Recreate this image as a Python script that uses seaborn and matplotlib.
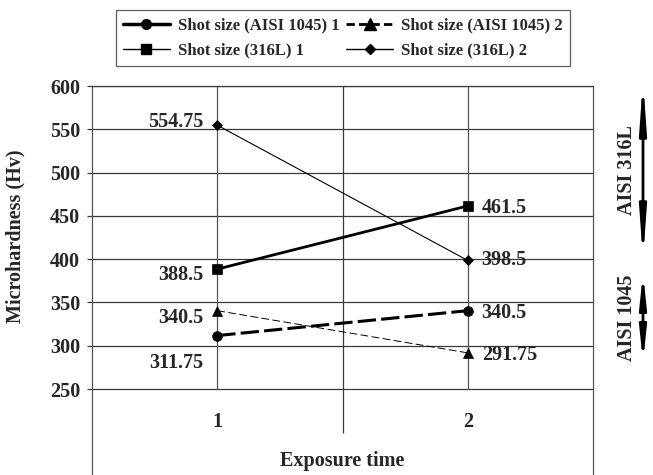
import pandas as pd
import seaborn as sns
import matplotlib.pyplot as plt
from matplotlib.lines import Line2D

# data
exposure = [1, 2]
shot_1045_1 = [311.75, 340.5]
shot_1045_2 = [340.5, 291.75]
shot_316_1 = [388.5, 461.5]
shot_316_2 = [554.75, 398.5]
y_ticks = [250, 300, 350, 400, 450, 500, 550, 600]

sns.set_theme(style="white")
plt.rcParams['font.family'] = ['Liberation Serif', 'DejaVu Serif']
plt.rcParams['font.weight'] = 'bold'

fig = plt.figure(figsize=(6.53, 4.75), dpi=100)
ax = fig.add_axes([92 / 653, 0, 501 / 653, 389 / 475])

grid_c = '#3a3a3a'
ax.set_xlim(0.5, 2.5)
ax.set_ylim(150.7, 600)
ax.set_yticks(y_ticks)
ax.set_xticks([])
ax.yaxis.grid(True, color=grid_c, lw=0.9)
ax.vlines(exposure, y_ticks[0], y_ticks[-1], color='#555555', lw=0.9, zorder=1)
ax.vlines(1.5, 199, y_ticks[-1], color=grid_c, lw=0.9, zorder=1)
for s in ['left', 'right', 'top']:
    ax.spines[s].set_color('#555555')
    ax.spines[s].set_linewidth(0.9)
ax.spines['top'].set_color(grid_c)
ax.spines['bottom'].set_visible(False)
ax.tick_params(axis='y', which='both', left=True, direction='out', length=3.6,
               width=0.9, color=grid_c, pad=5, labelsize=14.5)
for t in ax.get_yticklabels():
    t.set_fontweight('bold')

# plotted series (styles as they appear in the plot area)
series = [
    (shot_1045_1, dict(marker='o', markersize=7, lw=2.2, linestyle=(0, (6, 1.7)))),
    (shot_1045_2, dict(marker='^', markersize=7.5, lw=0.7, linestyle=(0, (8, 3.5)))),
    (shot_316_1, dict(marker='s', markersize=7, lw=2.0, linestyle='-')),
    (shot_316_2, dict(marker='D', markersize=5, lw=0.8, linestyle='-')),
]
for vals, kw in series:
    sns.lineplot(x=exposure, y=vals, ax=ax, color='black', mec='black', mew=0.5,
                 legend=False, zorder=3, **kw)

# value labels: (series, offset at x=1, offset at x=2) in points
label_offsets = [
    (shot_1045_1, (-10, -20), (10, -1.5)),
    (shot_1045_2, (-10, -5), (10, -1.5)),
    (shot_316_1, (-10, -4.5), (10, -1.5)),
    (shot_316_2, (-10, 2), (10, 0)),
]
for vals, off1, off2 in label_offsets:
    for x, v, off, ha in [(exposure[0], vals[0], off1, 'right'), (exposure[1], vals[1], off2, 'left')]:
        ax.annotate(f'{v:g}', (x, v), xytext=off, textcoords='offset points',
                    ha=ha, va='center', fontsize=14.5, fontweight='bold')

# category labels in the lower band
for x in exposure:
    ax.text(x, 212, str(x), ha='center', va='center', fontsize=14.5, fontweight='bold')
ax.text(0.5, 4 / 389, 'Exposure time', transform=ax.transAxes, ha='center',
        va='bottom', fontsize=14.5, fontweight='bold')
ax.set_ylabel('Microhardness (Hv)', fontsize=14.5, fontweight='bold')
ax.yaxis.set_label_coords(-67 / 501, (475 - 236) / 389)

# legend (styles as printed in the original legend)
handles = [
    Line2D([], [], color='black', lw=2.5, marker='o', markersize=7),
    Line2D([], [], color='black', lw=1.0, marker='s', markersize=7),
    Line2D([], [], color='black', lw=2.0, linestyle=(0, (3, 1.5)), marker='^', markersize=8),
    Line2D([], [], color='black', lw=1.0, marker='D', markersize=5),
]
labels = ['Shot size (AISI 1045) 1', 'Shot size (316L) 1',
          'Shot size (AISI 1045) 2', 'Shot size (316L) 2']
leg = fig.legend(handles, labels, ncol=2, loc='center', bbox_to_anchor=(343 / 653, 1 - 38 / 475),
                 frameon=True, fancybox=False, handlelength=2.8,
                 handletextpad=0.5, columnspacing=0.4, labelspacing=0.55,
                 borderpad=0.45, prop={'weight': 'bold', 'size': 12})
leg.get_frame().set_edgecolor('#333333')
leg.get_frame().set_linewidth(0.9)

# alloy range arrows on the right
for (y0, y1), name, head in [((80, 260), 'AISI 316L', 2.8), ((273, 362), 'AISI 1045', 1.9)]:
    ax.annotate('', xy=(643 / 653, 1 - y0 / 475), xytext=(643 / 653, 1 - y1 / 475),
                xycoords='figure fraction', textcoords='figure fraction',
                arrowprops=dict(arrowstyle=f'<|-|>,head_length={head},head_width=0.2',
                                color='black', lw=2.0, shrinkA=0, shrinkB=0,
                                mutation_scale=10))
    fig.text(627 / 653, 1 - (y0 + y1) / 2 / 475, name, rotation=90, ha='center',
             va='center', fontsize=14.5, fontweight='bold')

plt.savefig('out.png', dpi=100)
